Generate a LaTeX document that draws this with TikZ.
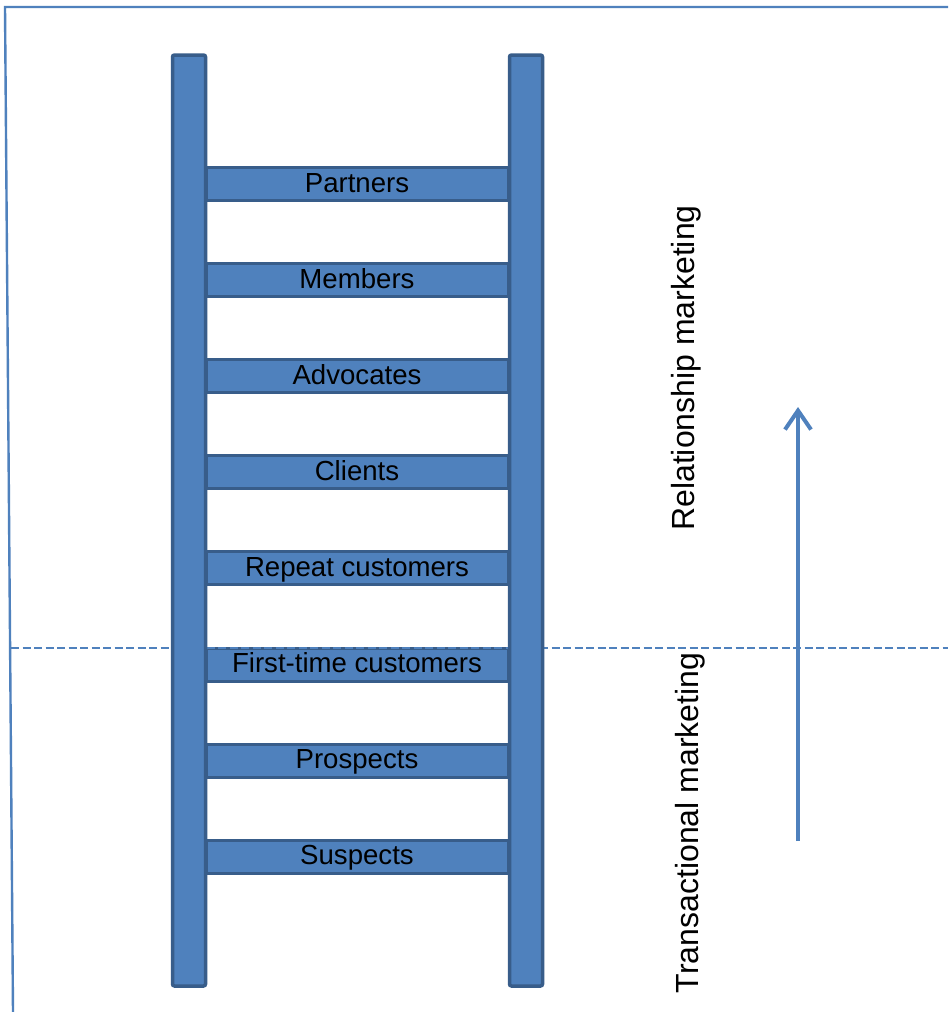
\documentclass[tikz,border=0pt]{standalone}
\usepackage{fontspec}
\setmainfont{Liberation Sans}
\usetikzlibrary{arrows.meta}
\definecolor{ladderfill}{HTML}{4F81BD}
\definecolor{ladderedge}{HTML}{385D8A}
\definecolor{frameblue}{HTML}{4F81BD}
\tikzset{
  rail/.style={draw=ladderedge, fill=ladderfill, line width=3.5pt, rounded corners=2pt,
    minimum width=33pt, minimum height=931pt, inner sep=0pt},
  rung/.style={draw=ladderedge, fill=ladderfill, line width=3pt,
    minimum width=302pt, minimum height=33pt, inner sep=0pt,
    text height=21pt, text depth=5pt,
    font=\fontsize{27.6}{33}\selectfont, text=black},
  sidelabel/.style={rotate=90, font=\fontsize{32}{38}\selectfont, text=black, inner sep=0pt},
  frameline/.style={draw=frameblue, line width=2.4pt},
  divider/.style={draw=frameblue, line width=1.8pt, dash pattern=on 8pt off 3.5pt},
  uparrow/.style={draw=frameblue, line width=4pt, -{Straight Barb[length=19pt,width=26pt,line width=4pt]}}
}
\begin{document}
\begin{tikzpicture}[x=1pt,y=-1pt]
\useasboundingbox[fill=white] (0,0) rectangle (948,1012);
% frame
\coordinate (ftl) at (5,7);
\coordinate (ftr) at (948,7);
\coordinate (fbl) at (13,1012);
\draw[frameline] (fbl) -- (ftl) -- (ftr);
% rungs
\node[rung] (partners) at (357,184) {Partners};
\node[rung] (members) at (357,280) {Members};
\node[rung] (advocates) at (357,376) {Advocates};
\node[rung] (clients) at (357,472) {Clients};
\node[rung] (repeat) at (357,568) {Repeat customers};
\node[rung] (firsttime) at (357,664.5) {First-time customers};
\node[rung] (prospects) at (357,760.5) {Prospects};
\node[rung] (suspects) at (357,856.5) {Suspects};
% divider
\coordinate (dl) at (11,648);
\coordinate (dr) at (948,648);
\draw[divider] (dl) -- (dr);
% rails
\node[rail] (leftrail) at (189,520.5) {};
\node[rail] (rightrail) at (526,520.5) {};
% arrow
\coordinate (abot) at (798,841);
\coordinate (atop) at (798,407);
\draw[uparrow] (abot) -- (atop);
% side labels
\node[sidelabel] (relmkt) at (686,368) {Relationship marketing};
\node[sidelabel] (transmkt) at (690,823) {Transactional marketing};
\end{tikzpicture}
\end{document}
